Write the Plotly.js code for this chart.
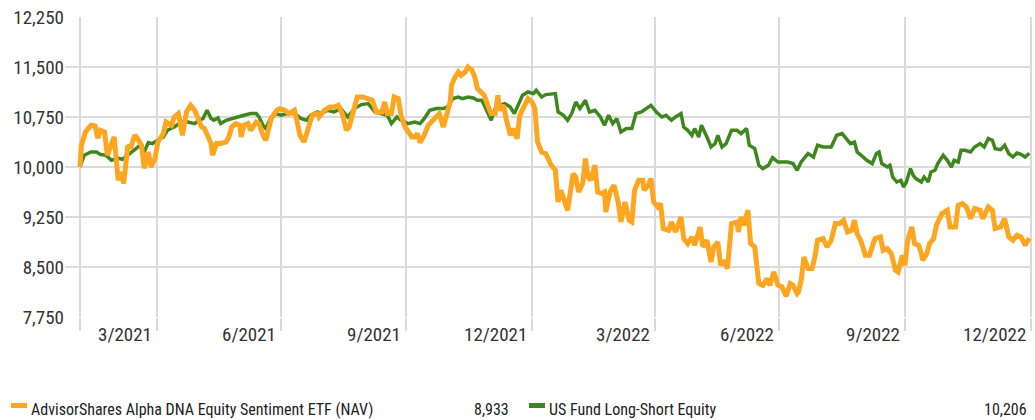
<!DOCTYPE html>
<html>
<head>
<meta charset="utf-8">
<script src="https://cdn.plot.ly/plotly-3.0.1.min.js"></script>
<style>
html,body{margin:0;padding:0;background:#fff;}
#chart{width:1035px;height:420px;}
</style>
</head>
<body>
<div id="chart"></div>
<script>
// ---------- data ----------
const seriesNames = ["AdvisorShares Alpha DNA Equity Sentiment ETF (NAV)", "US Fund Long-Short Equity"];
const finalValues = ["8,933", "10,206"];
const xTickDates = ["2021-02-03","2021-03-31","2021-06-30","2021-09-30","2021-12-31","2022-03-31","2022-06-30","2022-09-30","2022-12-31"];
const xTickLabels = ["", "3/2021","6/2021","9/2021","12/2021","3/2022","6/2022","9/2022","12/2022"];
const yTickVals = [7750, 8500, 9250, 10000, 10750, 11500, 12250];

const etfDates = [
"2021-02-03","2021-02-04","2021-02-07","2021-02-11","2021-02-14","2021-02-16","2021-02-18","2021-02-21","2021-02-23","2021-02-26",
"2021-02-28","2021-03-03","2021-03-05","2021-03-07","2021-03-10","2021-03-12","2021-03-15","2021-03-17","2021-03-20","2021-03-22",
"2021-03-25","2021-03-27","2021-03-30","2021-04-01","2021-04-05","2021-04-07","2021-04-11","2021-04-13","2021-04-16","2021-04-19",
"2021-04-22","2021-04-25","2021-04-28","2021-04-30","2021-05-03","2021-05-05","2021-05-08","2021-05-10","2021-05-11","2021-05-14",
"2021-05-17","2021-05-21","2021-05-23","2021-05-25","2021-05-28","2021-05-31","2021-06-01","2021-06-03","2021-06-06","2021-06-08",
"2021-06-12","2021-06-14","2021-06-17","2021-06-19","2021-06-23","2021-06-27","2021-06-29","2021-07-03","2021-07-06","2021-07-10",
"2021-07-12","2021-07-14","2021-07-17","2021-07-20","2021-07-23","2021-07-27","2021-07-28","2021-08-01","2021-08-05","2021-08-08",
"2021-08-11","2021-08-14","2021-08-17","2021-08-19","2021-08-22","2021-08-25","2021-08-29","2021-09-02","2021-09-05","2021-09-08",
"2021-09-12","2021-09-14","2021-09-16","2021-09-19","2021-09-21","2021-09-24","2021-09-26","2021-09-29","2021-10-01","2021-10-04",
"2021-10-06","2021-10-08","2021-10-10","2021-10-13","2021-10-16","2021-10-19","2021-10-22","2021-10-24","2021-10-27","2021-10-29",
"2021-11-01","2021-11-02","2021-11-04","2021-11-07","2021-11-09","2021-11-12","2021-11-14","2021-11-17","2021-11-19","2021-11-21",
"2021-11-24","2021-11-26","2021-11-29","2021-12-01","2021-12-04","2021-12-06","2021-12-07","2021-12-10","2021-12-12","2021-12-15",
"2021-12-17","2021-12-20","2021-12-22","2021-12-24","2021-12-28","2021-12-31","2022-01-02","2022-01-04","2022-01-07","2022-01-10",
"2022-01-14","2022-01-17","2022-01-19","2022-01-21","2022-01-24","2022-01-26","2022-01-30","2022-02-01","2022-02-03","2022-02-06",
"2022-02-08","2022-02-10","2022-02-12","2022-02-15","2022-02-17","2022-02-20","2022-02-22","2022-02-23","2022-02-26","2022-03-01",
"2022-03-04","2022-03-06","2022-03-09","2022-03-12","2022-03-14","2022-03-16","2022-03-19","2022-03-22","2022-03-23","2022-03-26",
"2022-03-28","2022-03-30","2022-04-02","2022-04-04","2022-04-06","2022-04-10","2022-04-12","2022-04-15","2022-04-19","2022-04-21",
"2022-04-24","2022-04-27","2022-04-29","2022-05-03","2022-05-05","2022-05-08","2022-05-11","2022-05-13","2022-05-16","2022-05-18",
"2022-05-20","2022-05-23","2022-05-26","2022-05-30","2022-05-31","2022-06-02","2022-06-04","2022-06-07","2022-06-09","2022-06-12",
"2022-06-15","2022-06-18","2022-06-21","2022-06-23","2022-06-26","2022-06-29","2022-07-02","2022-07-05","2022-07-08","2022-07-10",
"2022-07-13","2022-07-14","2022-07-16","2022-07-18","2022-07-21","2022-07-24","2022-07-26","2022-07-28","2022-08-01","2022-08-04",
"2022-08-07","2022-08-10","2022-08-13","2022-08-16","2022-08-19","2022-08-22","2022-08-24","2022-08-26","2022-08-29","2022-09-01",
"2022-09-04","2022-09-08","2022-09-12","2022-09-14","2022-09-17","2022-09-20","2022-09-23","2022-09-25","2022-09-28","2022-09-30",
"2022-10-02","2022-10-05","2022-10-07","2022-10-10","2022-10-12","2022-10-13","2022-10-16","2022-10-18","2022-10-21","2022-10-23",
"2022-10-27","2022-10-31","2022-11-02","2022-11-06","2022-11-08","2022-11-11","2022-11-14","2022-11-17","2022-11-20","2022-11-24",
"2022-11-26","2022-11-30","2022-12-03","2022-12-05","2022-12-09","2022-12-12","2022-12-15","2022-12-18","2022-12-21","2022-12-24",
"2022-12-27","2022-12-30"];
const etfValues = [
10000,10326,10525,10626,10615,10431,10551,10525,10176,10326,
10450,9800,9925,9751,10326,10281,10476,10431,10326,9981,
10225,10000,10131,10375,10501,10675,10626,10750,10801,10476,
10825,10926,10851,10750,10600,10581,10450,10351,10176,10351,
10351,10375,10450,10600,10651,10626,10450,10626,10651,10551,
10675,10651,10476,10401,10726,10851,10876,10851,10801,10851,
10675,10476,10375,10600,10776,10801,10750,10851,10900,10900,
10926,10801,10551,10600,10851,11050,11050,11026,11001,10825,
10825,10975,10801,10801,11050,11026,10776,10600,10551,10450,
10450,10501,10366,10476,10626,10701,10750,10801,10600,10776,
10975,11226,11326,11425,11376,11425,11500,11451,11350,11176,
11125,11076,10900,10801,10801,11076,10851,10926,10726,10476,
10576,10426,10776,10851,11026,10975,10876,10375,10225,10201,
10026,9951,9475,9651,9475,9350,9901,9850,9625,9751,
10126,9850,9801,10026,9625,9601,9625,9325,9625,9726,
9475,9175,9475,9201,9175,9651,9801,9801,9651,9726,
9826,9475,9400,9451,9076,9050,9175,9025,9250,8926,
8851,8950,8826,9100,8800,8901,8575,8800,8875,8526,
8601,8476,9151,9175,9025,9250,9126,9351,8851,8800,
8251,8226,8326,8226,8425,8226,8200,8061,8251,8226,
8101,8125,8301,8650,8476,8476,8650,8901,8926,8800,
8901,9151,9151,9201,9025,9050,9201,9001,8875,8676,
8676,8926,8950,8751,8776,8701,8451,8425,8676,8526,
8901,9100,8851,8826,8701,8601,8701,8851,8926,9126,
9301,9351,9100,9100,9426,9451,9400,9226,9376,9351,
9226,9400,9351,9076,9100,9226,8950,8901,8976,8950,
8826,8933];

const catDates = [
"2021-02-03","2021-02-06","2021-02-11","2021-02-15","2021-02-18","2021-02-22","2021-02-26","2021-03-03","2021-03-06","2021-03-10",
"2021-03-14","2021-03-19","2021-03-22","2021-03-25","2021-03-28","2021-04-01","2021-04-05","2021-04-08","2021-04-13","2021-04-18",
"2021-04-23","2021-04-28","2021-05-01","2021-05-04","2021-05-07","2021-05-10","2021-05-12","2021-05-15","2021-05-17","2021-05-21",
"2021-05-25","2021-05-30","2021-06-03","2021-06-08","2021-06-12","2021-06-14","2021-06-17","2021-06-19","2021-06-23","2021-06-27",
"2021-06-30","2021-07-05","2021-07-10","2021-07-15","2021-07-19","2021-07-22","2021-07-27","2021-07-30","2021-08-03","2021-08-08",
"2021-08-13","2021-08-18","2021-08-23","2021-08-28","2021-09-02","2021-09-07","2021-09-12","2021-09-16","2021-09-19","2021-09-23",
"2021-09-26","2021-10-01","2021-10-06","2021-10-10","2021-10-13","2021-10-17","2021-10-22","2021-10-27","2021-10-30","2021-11-03",
"2021-11-07","2021-11-10","2021-11-14","2021-11-18","2021-11-21","2021-11-24","2021-11-26","2021-11-29","2021-12-01","2021-12-04",
"2021-12-07","2021-12-11","2021-12-15","2021-12-18","2021-12-21","2021-12-24","2021-12-28","2022-01-01","2022-01-03","2022-01-07",
"2022-01-10","2022-01-14","2022-01-17","2022-01-19","2022-01-23","2022-01-26","2022-01-29","2022-02-01","2022-02-04","2022-02-08",
"2022-02-11","2022-02-15","2022-02-19","2022-02-22","2022-02-25","2022-02-28","2022-03-03","2022-03-06","2022-03-10","2022-03-14",
"2022-03-17","2022-03-21","2022-03-25","2022-03-28","2022-04-01","2022-04-05","2022-04-08","2022-04-12","2022-04-15","2022-04-19",
"2022-04-21","2022-04-24","2022-04-27","2022-04-29","2022-05-02","2022-05-04","2022-05-08","2022-05-11","2022-05-14","2022-05-16",
"2022-05-19","2022-05-22","2022-05-26","2022-05-30","2022-06-02","2022-06-06","2022-06-08","2022-06-12","2022-06-15","2022-06-18",
"2022-06-22","2022-06-25","2022-06-29","2022-07-03","2022-07-06","2022-07-10","2022-07-13","2022-07-16","2022-07-19","2022-07-21",
"2022-07-25","2022-07-28","2022-08-01","2022-08-05","2022-08-07","2022-08-11","2022-08-15","2022-08-18","2022-08-21","2022-08-24",
"2022-08-26","2022-08-29","2022-09-02","2022-09-06","2022-09-09","2022-09-11","2022-09-13","2022-09-17","2022-09-19","2022-09-21",
"2022-09-24","2022-09-27","2022-09-29","2022-10-01","2022-10-04","2022-10-06","2022-10-08","2022-10-12","2022-10-14","2022-10-17",
"2022-10-19","2022-10-22","2022-10-24","2022-10-28","2022-10-31","2022-11-03","2022-11-05","2022-11-08","2022-11-10","2022-11-13",
"2022-11-17","2022-11-20","2022-11-24","2022-11-27","2022-11-30","2022-12-03","2022-12-05","2022-12-09","2022-12-12","2022-12-15",
"2022-12-18","2022-12-21","2022-12-24","2022-12-27","2022-12-30"];
const catValues = [
10000,10176,10225,10225,10186,10176,10101,10131,10116,10176,
10251,10326,10225,10366,10351,10401,10450,10551,10600,10675,
10675,10651,10701,10726,10851,10726,10701,10735,10651,10701,
10726,10761,10776,10801,10801,10750,10626,10576,10750,10801,
10776,10801,10801,10726,10701,10776,10825,10801,10851,10825,
10876,10750,10876,10936,10951,10825,10801,10776,10651,10750,
10701,10651,10675,10651,10726,10851,10876,10876,10900,11026,
11050,11026,11050,11035,11001,11001,10926,10801,10701,10876,
10926,10951,10900,10801,10926,11076,11125,11101,11151,11050,
11086,11101,11101,10825,10776,10701,10801,10975,10876,11001,
10825,10851,10750,10626,10776,10651,10726,10525,10576,10576,
10801,10825,10876,10926,10825,10750,10776,10701,10750,10801,
10600,10551,10476,10576,10450,10626,10450,10300,10351,10476,
10300,10351,10551,10551,10501,10576,10326,10276,10026,9976,
10026,10141,10075,10075,10075,10051,9951,10075,10150,10201,
10150,10326,10300,10300,10300,10476,10501,10426,10351,10375,
10225,10176,10101,10051,10201,10225,10051,10000,10026,9850,
9775,9801,9700,9775,9976,9875,9826,9775,9850,9775,
9925,9951,10051,10176,10101,10000,10101,10075,10251,10251,
10225,10300,10351,10300,10426,10401,10276,10261,10326,10201,
10150,10210,10191,10150,10206];

// ---------- layout helpers ----------
const W = 1035, H = 420;
const L = 65, R = 1032, T = 17, B = 317;
const px = p => (p - L) / (R - L);
const py = p => (B - p) / (B - T);
const FONT = "'Roboto Condensed', 'Liberation Sans Narrow', sans-serif";
const ORANGE = "#FFA621";
const GREEN = "#3D871E";
const GRID = "#dadada";

const traces = [
  {x: catDates, y: catValues, type: "scatter", mode: "lines", name: seriesNames[1],
   line: {color: GREEN, width: 3.5}, hoverinfo: "skip"},
  {x: etfDates, y: etfValues, type: "scatter", mode: "lines", name: seriesNames[0],
   line: {color: ORANGE, width: 5}, hoverinfo: "skip"}
];

const annotations = [];
xTickDates.forEach((d, i) => {
  if (!xTickLabels[i]) return;
  annotations.push({x: d, xref: "x", y: py(334), yref: "paper", text: xTickLabels[i],
    showarrow: false, xanchor: "right", yanchor: "middle", xshift: -3,
    font: {family: FONT, size: 19, color: "#333"}});
});
// legend rows
const legendY = py(409);
const legFont = {family: FONT, size: 16, color: "#222"};
annotations.push({x: px(29), xref: "paper", y: legendY, yref: "paper", text: seriesNames[0],
  showarrow: false, xanchor: "left", yanchor: "middle", font: legFont});
annotations.push({x: px(511), xref: "paper", y: legendY, yref: "paper", text: finalValues[0],
  showarrow: false, xanchor: "right", yanchor: "middle", font: legFont});
annotations.push({x: px(547), xref: "paper", y: legendY, yref: "paper", text: seriesNames[1],
  showarrow: false, xanchor: "left", yanchor: "middle", font: legFont});
annotations.push({x: px(1029), xref: "paper", y: legendY, yref: "paper", text: finalValues[1],
  showarrow: false, xanchor: "right", yanchor: "middle", font: legFont});

const shapes = [
  {type: "line", xref: "paper", yref: "paper", x0: px(11), x1: px(27), y0: py(405.5), y1: py(405.5),
   line: {color: ORANGE, width: 5}},
  {type: "line", xref: "paper", yref: "paper", x0: px(529), x1: px(545), y0: py(405.5), y1: py(405.5),
   line: {color: GREEN, width: 5}}
];

const layout = {
  width: W, height: H,
  margin: {l: L, r: W - R, t: T, b: H - B, pad: 0},
  paper_bgcolor: "#fff", plot_bgcolor: "#fff",
  showlegend: false,
  font: {family: FONT, size: 19, color: "#333"},
  xaxis: {
    type: "date",
    range: ["2021-01-23", "2023-01-01"],
    tickmode: "array", tickvals: xTickDates, showticklabels: false,
    showgrid: true, gridcolor: GRID, gridwidth: 2,
    ticks: "outside", ticklen: 13, tickwidth: 2, tickcolor: GRID,
    zeroline: false, showline: false, fixedrange: true
  },
  yaxis: {
    range: [7750, 12250],
    tickmode: "array", tickvals: yTickVals,
    tickformat: ",d",
    showgrid: true, gridcolor: GRID, gridwidth: 2,
    zeroline: false, showline: false, ticks: "",
    tickfont: {family: FONT, size: 19, color: "#333"},
    fixedrange: true
  },
  annotations: annotations,
  shapes: shapes
};

Plotly.newPlot("chart", traces, layout, {staticPlot: true, displayModeBar: false});
</script>
</body>
</html>
